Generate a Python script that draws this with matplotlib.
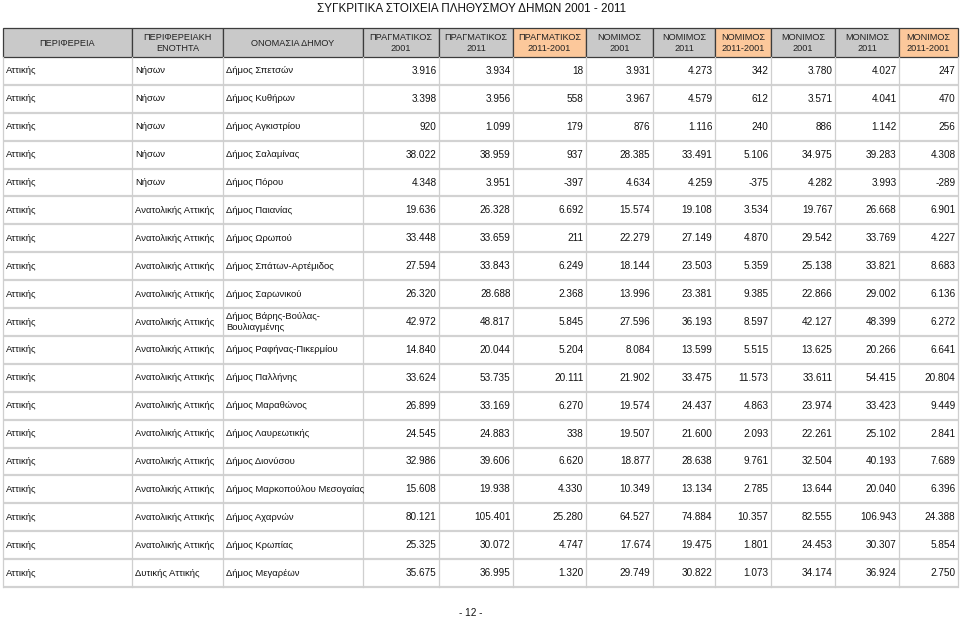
import matplotlib
matplotlib.use("Agg")
import matplotlib.pyplot as plt
from matplotlib.patches import Rectangle

# ---------------- data ----------------
title = "ΣΥΓΚΡΙΤΙΚΑ ΣΤΟΙΧΕΙΑ ΠΛΗΘΥΣΜΟΥ ΔΗΜΩΝ 2001 - 2011"
page_label = "- 12 -"

headers = ["ΠΕΡΙΦΕΡΕΙΑ", "ΠΕΡΙΦΕΡΕΙΑΚΗ\nΕΝΟΤΗΤΑ", "ΟΝΟΜΑΣΙΑ ΔΗΜΟΥ",
           "ΠΡΑΓΜΑΤΙΚΟΣ\n2001", "ΠΡΑΓΜΑΤΙΚΟΣ\n2011", "ΠΡΑΓΜΑΤΙΚΟΣ\n2011-2001",
           "ΝΟΜΙΜΟΣ\n2001", "ΝΟΜΙΜΟΣ\n2011", "ΝΟΜΙΜΟΣ\n2011-2001",
           "ΜΟΝΙΜΟΣ\n2001", "ΜΟΝΙΜΟΣ\n2011", "ΜΟΝΙΜΟΣ\n2011-2001"]

regions = ["Αττικής"] * 19
units = ["Νήσων"] * 5 + ["Ανατολικής Αττικής"] * 13 + ["Δυτικής Αττικής"]
municipalities = [
    "Δήμος Σπετσών", "Δήμος Κυθήρων", "Δήμος Αγκιστρίου", "Δήμος Σαλαμίνας",
    "Δήμος Πόρου", "Δήμος Παιανίας", "Δήμος Ωρωπού", "Δήμος Σπάτων-Αρτέμιδος",
    "Δήμος Σαρωνικού", "Δήμος Βάρης-Βούλας-\nΒουλιαγμένης", "Δήμος Ραφήνας-Πικερμίου",
    "Δήμος Παλλήνης", "Δήμος Μαραθώνος", "Δήμος Λαυρεωτικής", "Δήμος Διονύσου",
    "Δήμος Μαρκοπούλου Μεσογαίας", "Δήμος Αχαρνών", "Δήμος Κρωπίας", "Δήμος Μεγαρέων",
]

pragmatikos_2001 = [3916, 3398, 920, 38022, 4348, 19636, 33448, 27594, 26320, 42972,
                    14840, 33624, 26899, 24545, 32986, 15608, 80121, 25325, 35675]
pragmatikos_2011 = [3934, 3956, 1099, 38959, 3951, 26328, 33659, 33843, 28688, 48817,
                    20044, 53735, 33169, 24883, 39606, 19938, 105401, 30072, 36995]
pragmatikos_diff = [18, 558, 179, 937, -397, 6692, 211, 6249, 2368, 5845,
                    5204, 20111, 6270, 338, 6620, 4330, 25280, 4747, 1320]
nomimos_2001 = [3931, 3967, 876, 28385, 4634, 15574, 22279, 18144, 13996, 27596,
                8084, 21902, 19574, 19507, 18877, 10349, 64527, 17674, 29749]
nomimos_2011 = [4273, 4579, 1116, 33491, 4259, 19108, 27149, 23503, 23381, 36193,
                13599, 33475, 24437, 21600, 28638, 13134, 74884, 19475, 30822]
nomimos_diff = [342, 612, 240, 5106, -375, 3534, 4870, 5359, 9385, 8597,
                5515, 11573, 4863, 2093, 9761, 2785, 10357, 1801, 1073]
monimos_2001 = [3780, 3571, 886, 34975, 4282, 19767, 29542, 25138, 22866, 42127,
                13625, 33611, 23974, 22261, 32504, 13644, 82555, 24453, 34174]
monimos_2011 = [4027, 4041, 1142, 39283, 3993, 26668, 33769, 33821, 29002, 48399,
                20266, 54415, 33423, 25102, 40193, 20040, 106943, 30307, 36924]
monimos_diff = [247, 470, 256, 4308, -289, 6901, 4227, 8683, 6136, 6272,
                6641, 20804, 9449, 2841, 7689, 6396, 24388, 5854, 2750]

numeric_cols = [pragmatikos_2001, pragmatikos_2011, pragmatikos_diff,
                nomimos_2001, nomimos_2011, nomimos_diff,
                monimos_2001, monimos_2011, monimos_diff]

# ---------------- layout ----------------
W, H = 960, 619
col_edges = [3, 132, 223, 363, 439, 513, 586, 653, 715, 771, 835, 899, 958]
header_top, header_bot = 28, 57
row_h = (587 - header_bot) / 19.0

GRAY = "#c9c9c9"
ORANGE = "#fcc89b"
header_fill = [GRAY] * 5 + [ORANGE] + [GRAY] * 2 + [ORANGE] + [GRAY] * 2 + [ORANGE]

FONT = ["Liberation Sans", "DejaVu Sans"]
FS_TEXT = 6.8
FS_NUM = 7.2
FS_HEAD = 6.6


def fmt(v):
    s = f"{abs(v):,}".replace(",", ".")
    return ("-" + s) if v < 0 else s


fig = plt.figure(figsize=(W / 100, H / 100), dpi=100)
ax = fig.add_axes([0, 0, 1, 1])
ax.set_xlim(0, W)
ax.set_ylim(H, 0)
ax.axis("off")

ax.text(472, 8.5, title, ha="center", va="center", fontsize=8.4, family=FONT, color="#111111")

# header
for i, h in enumerate(headers):
    x0, x1 = col_edges[i], col_edges[i + 1]
    ax.add_patch(Rectangle((x0, header_top), x1 - x0, header_bot - header_top,
                           facecolor=header_fill[i], edgecolor="#3c3c3c", lw=0.9))
    ax.text((x0 + x1) / 2, (header_top + header_bot) / 2 + 0.5, h, ha="center", va="center",
            fontsize=FS_HEAD, family=FONT, color="#222222", linespacing=1.3)

# body
nrows = len(municipalities)
for r in range(nrows):
    y0 = header_bot + r * row_h
    yc = y0 + row_h / 2
    texts = [regions[r], units[r], municipalities[r]]
    for c, t in enumerate(texts):
        ax.text(col_edges[c] + 3, yc, t, ha="left", va="center", fontsize=FS_TEXT,
                family=FONT, color="#111111", linespacing=1.25)
    for k, col in enumerate(numeric_cols):
        c = k + 3
        ax.text(col_edges[c + 1] - 2.5, yc, fmt(col[r]), ha="right", va="center",
                fontsize=FS_NUM, family=FONT, color="#111111")
    yb = y0 + row_h
    ax.plot([col_edges[0], col_edges[-1]], [yb, yb], color="#d2d2d2", lw=1.6,
            solid_capstyle="butt")

# vertical grid lines in body
for x in col_edges:
    ax.plot([x, x], [header_bot, header_bot + nrows * row_h], color="#cfcfcf", lw=0.9)

ax.text(471, 613, page_label, ha="center", va="center", fontsize=FS_NUM, family=FONT,
        color="#111111")

fig.savefig("out.png", dpi=100)
